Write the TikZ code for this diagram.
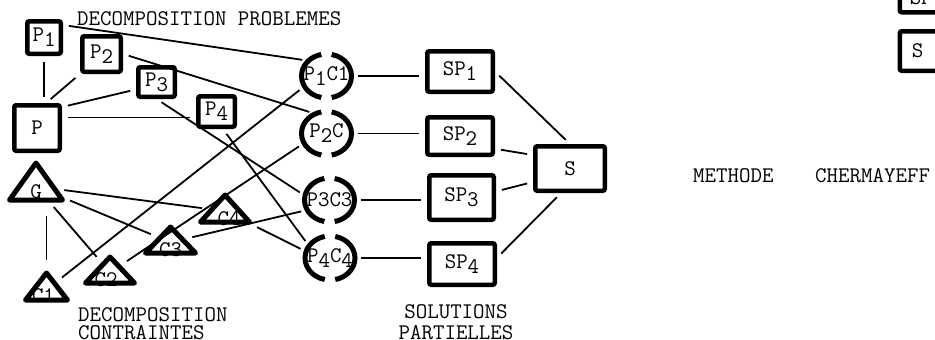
\documentclass[tikz,border=0pt]{standalone}
\usepackage{fontspec}
\usetikzlibrary{shapes.geometric}

\newcommand{\dn}[1]{\raisebox{-5pt}{#1}}

\tikzset{
  box/.style={draw, line width=4.5pt, rounded corners=2pt, inner sep=0pt},
  tri/.style={draw, line width=5pt, line join=round, isosceles triangle,
    isosceles triangle stretches, shape border rotate=90, inner sep=0pt, anchor=lower side},
  halo/.style={ellipse, minimum width=50pt, minimum height=44pt, inner sep=0pt},
  halfring/.style={line width=5pt},
  link/.style={line width=1.8pt, shorten <=6pt, shorten >=6pt},
}

\begin{document}
\begin{tikzpicture}[x=1pt, y=-1pt, font=\ttfamily\fontsize{22.3pt}{18pt}\selectfont]
  \useasboundingbox (0,0) rectangle (935,340);
  \clip (0,0) rectangle (935,340);

  % problemes
  \node[box, minimum width=33.5pt, minimum height=32.5pt] (p1) at (44,37.5) {P\dn{1}};
  \node[box, minimum width=38.5pt, minimum height=35.5pt] (p2) at (101.5,54) {P\dn{2}};
  \node[box, minimum width=36.5pt, minimum height=29.5pt] (p3) at (156.5,82) {P\dn{3}};
  \node[box, minimum width=36.5pt, minimum height=30.5pt] (p4) at (216.5,111.5) {P\dn{4}};
  \node[box, minimum width=45.5pt, minimum height=45.5pt] (p) at (37,128) {P};

  % contraintes
  \node[tri, minimum width=53pt, minimum height=37pt, label={[anchor=base, yshift=4pt]lower side:G}] (g) at (36,202.5) {};
  \node[tri, minimum width=49pt, minimum height=27pt, label={[anchor=base, xshift=4pt, yshift=-1pt]lower side:C4}] (c4) at (225,224.5) {};
  \node[tri, minimum width=50pt, minimum height=26pt, label={[anchor=base, yshift=-1pt]lower side:C3}] (c3) at (170.5,255.5) {};
  \node[tri, minimum width=49pt, minimum height=26pt, label={[anchor=base, xshift=-4pt, yshift=-1pt]lower side:C2}] (c2) at (110,285.5) {};
  \node[tri, minimum width=42pt, minimum height=27pt, label={[anchor=base, xshift=-3pt]lower side:C1}] (c1) at (46.5,302.5) {};

  % couples
  \node[halo, label={center:P\dn{1}C1}] (pc1) at (326.5,76) {};
  \node[halo, label={center:P\dn{2}C}] (pc2) at (326.5,133.5) {};
  \node[halo, label={center:P3C3}] (pc3) at (329.5,200) {};
  \node[halo, label={center:P\dn{4}C\dn{4}}] (pc4) at (330,258) {};
  \foreach \n in {pc1,pc2,pc3,pc4}{
    \draw[halfring] (\n.center) ++(102:25 and 22) arc (102:258:25 and 22);
    \draw[halfring] (\n.center) ++(-78:25 and 22) arc (-78:78:25 and 22);
  }

  % solutions
  \node[box, minimum width=65.5pt, minimum height=40.5pt] (sp1) at (460,71.5) {SP\dn{1}};
  \node[box, minimum width=65.5pt, minimum height=37.5pt] (sp2) at (460,136) {SP\dn{2}};
  \node[box, minimum width=64.5pt, minimum height=44.5pt] (sp3) at (461.5,197.5) {SP\dn{3}};
  \node[box, minimum width=65.5pt, minimum height=41.5pt] (sp4) at (462,264) {SP\dn{4}};
  \node[box, minimum width=69.5pt, minimum height=44.5pt] (s) at (570,168.5) {S};

  % bord droit
  \node[box, anchor=south west, minimum height=30pt, inner xsep=10pt, text width=35pt, align=left] (spx) at (897.5,14.5) {SP};
  \node[box, anchor=west, minimum height=39.5pt, inner xsep=12pt, text width=35pt, align=left] (sx) at (897.5,51) {S};

  % textes
  \node[anchor=base west, inner sep=0pt] (tp) at (77,25) {DECOMPOSITION PROBLEMES};
  \node[anchor=north west, inner sep=0pt, align=left] (tc) at (78,307.5) {DECOMPOSITION\\CONTRAINTES};
  \node[anchor=north, inner sep=0pt, align=center, font=\ttfamily\fontsize{22.3pt}{21pt}\selectfont] (ts) at (456,304) {SOLUTIONS\\PARTIELLES};
  \node[anchor=base west, inner sep=0pt] (tm) at (693,182) {METHODE};
  \node[anchor=base west, inner sep=0pt] (tch) at (815,182) {CHERMAYEFF};

  % liaisons
  \draw[link] (p1.south) -- (p1.south |- p.north);
  \draw[link] (p2.south west) -- (p.70);
  \draw[link] (p3.200) -- (p.40);
  \draw[link] ([yshift=-6pt]p4.west) -- ([yshift=-6pt]p4.west -| p.east);
  \draw[link] ([yshift=-6pt]p1.north east) -- (pc1.140);
  \draw[link] (p2.east) -- (pc2.120);
  \draw[link] (p3.south) -- (pc3.170);
  \draw[link] (p4.290) -- (pc4.150);

  \draw[link, shorten <=13pt] (c1.apex |- g.lower side) -- (c1.apex);
  \draw[link] (g) -- (c2);
  \draw[link] (g) -- (c3);
  \draw[link] (g) -- (c4);
  \draw[link] (c1) -- (pc1.205);
  \draw[link] (c2) -- (pc2.203);
  \draw[link] (c3) -- (pc3.204);
  \draw[link] (c4) -- (pc4.165);

  \foreach \i in {1,...,4}
    \draw[link] (pc\i.east) -- (pc\i.east -| sp\i.west);
  \draw[link] (sp1.east) -- (s.north);
  \draw[link] (sp2.340) -- (s.160);
  \draw[link] (sp3.10) -- (s.200);
  \draw[link] (sp4.10) -- (s.250);
\end{tikzpicture}
\end{document}
